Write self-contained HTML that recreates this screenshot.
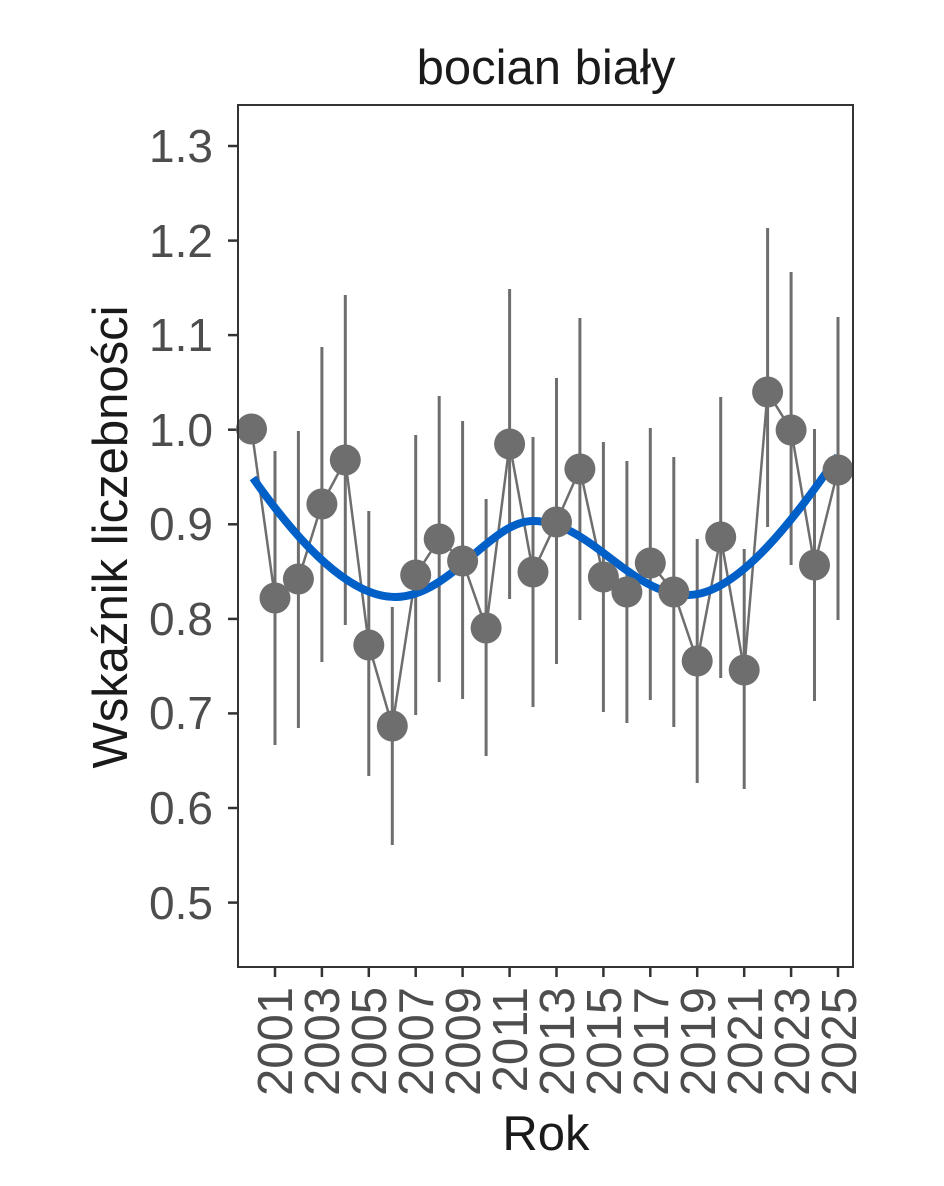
<!DOCTYPE html><html><head><style>body{margin:0;background:#fff}</style></head><body>
<svg width="944" height="1181" xmlns="http://www.w3.org/2000/svg" font-family="Liberation Sans, sans-serif">
<rect width="944" height="1181" fill="#fff"/>
<text x="546" y="84" font-size="49" text-anchor="middle" fill="#1a1a1a">bocian biały</text>
<g stroke="#333" stroke-width="2.5">
<line x1="228" y1="146" x2="238" y2="146"/><line x1="228" y1="240.6" x2="238" y2="240.6"/><line x1="228" y1="335.1" x2="238" y2="335.1"/><line x1="228" y1="429.7" x2="238" y2="429.7"/><line x1="228" y1="524.3" x2="238" y2="524.3"/><line x1="228" y1="618.9" x2="238" y2="618.9"/><line x1="228" y1="713.4" x2="238" y2="713.4"/><line x1="228" y1="808" x2="238" y2="808"/><line x1="228" y1="902.6" x2="238" y2="902.6"/>
</g>
<g font-size="46" fill="#4d4d4d" text-anchor="end">
<text x="213" y="162">1.3</text><text x="213" y="257">1.2</text><text x="213" y="351">1.1</text><text x="213" y="446">1.0</text><text x="213" y="540">0.9</text><text x="213" y="635">0.8</text><text x="213" y="729">0.7</text><text x="213" y="824">0.6</text><text x="213" y="919">0.5</text>
</g>
<g stroke="#333" stroke-width="2.5">
<line x1="275" y1="967" x2="275" y2="977"/><line x1="321.9" y1="967" x2="321.9" y2="977"/><line x1="368.8" y1="967" x2="368.8" y2="977"/><line x1="415.7" y1="967" x2="415.7" y2="977"/><line x1="462.6" y1="967" x2="462.6" y2="977"/><line x1="509.6" y1="967" x2="509.6" y2="977"/><line x1="556.5" y1="967" x2="556.5" y2="977"/><line x1="603.4" y1="967" x2="603.4" y2="977"/><line x1="650.3" y1="967" x2="650.3" y2="977"/><line x1="697.2" y1="967" x2="697.2" y2="977"/><line x1="744.2" y1="967" x2="744.2" y2="977"/><line x1="791.1" y1="967" x2="791.1" y2="977"/><line x1="838" y1="967" x2="838" y2="977"/>
</g>
<g font-size="49" fill="#4d4d4d" text-anchor="end">
<text transform="translate(292,987) rotate(-90)">2001</text>
<text transform="translate(339,987) rotate(-90)">2003</text>
<text transform="translate(386,987) rotate(-90)">2005</text>
<text transform="translate(433,987) rotate(-90)">2007</text>
<text transform="translate(480,987) rotate(-90)">2009</text>
<text transform="translate(527,987) rotate(-90)">2011</text>
<text transform="translate(574,987) rotate(-90)">2013</text>
<text transform="translate(621,987) rotate(-90)">2015</text>
<text transform="translate(668,987) rotate(-90)">2017</text>
<text transform="translate(715,987) rotate(-90)">2019</text>
<text transform="translate(762,987) rotate(-90)">2021</text>
<text transform="translate(809,987) rotate(-90)">2023</text>
<text transform="translate(856,987) rotate(-90)">2025</text>
</g>
<text x="546" y="1150" font-size="49" text-anchor="middle" fill="#1a1a1a">Rok</text>
<text transform="translate(127,537) rotate(-90)" font-size="49" text-anchor="middle" fill="#1a1a1a">Wskaźnik liczebności</text>
<g stroke="#6e6e6e" stroke-width="3">
<line x1="275" y1="451" x2="275" y2="745"/><line x1="298.4" y1="431" x2="298.4" y2="728"/><line x1="321.9" y1="347" x2="321.9" y2="662"/><line x1="345.3" y1="295" x2="345.3" y2="625"/><line x1="368.8" y1="511" x2="368.8" y2="776"/><line x1="392.3" y1="607" x2="392.3" y2="845"/><line x1="415.7" y1="435" x2="415.7" y2="715"/><line x1="439.2" y1="396" x2="439.2" y2="682"/><line x1="462.6" y1="421" x2="462.6" y2="699"/><line x1="486.1" y1="499" x2="486.1" y2="756"/><line x1="509.6" y1="289" x2="509.6" y2="599"/><line x1="533" y1="437" x2="533" y2="707"/><line x1="556.5" y1="378" x2="556.5" y2="664"/><line x1="579.9" y1="318" x2="579.9" y2="620"/><line x1="603.4" y1="442" x2="603.4" y2="712"/><line x1="626.9" y1="461" x2="626.9" y2="723"/><line x1="650.3" y1="428" x2="650.3" y2="700"/><line x1="673.8" y1="457" x2="673.8" y2="727"/><line x1="697.2" y1="539" x2="697.2" y2="783"/><line x1="720.7" y1="397" x2="720.7" y2="678"/><line x1="744.2" y1="549" x2="744.2" y2="789"/><line x1="767.6" y1="228" x2="767.6" y2="527"/><line x1="791.1" y1="272" x2="791.1" y2="565"/><line x1="814.5" y1="429" x2="814.5" y2="701"/><line x1="838" y1="317" x2="838" y2="620"/>
</g>
<polyline fill="none" stroke="#6e6e6e" stroke-width="2.5" points="251.5,429 275,598 298.4,579 321.9,504 345.3,460 368.8,645 392.3,726 415.7,575 439.2,539 462.6,561 486.1,628 509.6,444 533,572 556.5,522 579.9,469 603.4,577 626.9,592 650.3,563 673.8,592 697.2,661 720.7,537 744.2,670 767.6,392 791.1,430 814.5,565 838,470"/>
<path d="M253,478 C300,545 350,597 395,597 C450,597 490,521 533,521 C590,521 630,595 688,595 C740,595 800,510 838,456" fill="none" stroke="#0060c8" stroke-width="8"/>
<g fill="#6e6e6e">
<circle cx="251.5" cy="429" r="15.5"/><circle cx="275" cy="598" r="15.5"/><circle cx="298.4" cy="579" r="15.5"/><circle cx="321.9" cy="504" r="15.5"/><circle cx="345.3" cy="460" r="15.5"/><circle cx="368.8" cy="645" r="15.5"/><circle cx="392.3" cy="726" r="15.5"/><circle cx="415.7" cy="575" r="15.5"/><circle cx="439.2" cy="539" r="15.5"/><circle cx="462.6" cy="561" r="15.5"/><circle cx="486.1" cy="628" r="15.5"/><circle cx="509.6" cy="444" r="15.5"/><circle cx="533" cy="572" r="15.5"/><circle cx="556.5" cy="522" r="15.5"/><circle cx="579.9" cy="469" r="15.5"/><circle cx="603.4" cy="577" r="15.5"/><circle cx="626.9" cy="592" r="15.5"/><circle cx="650.3" cy="563" r="15.5"/><circle cx="673.8" cy="592" r="15.5"/><circle cx="697.2" cy="661" r="15.5"/><circle cx="720.7" cy="537" r="15.5"/><circle cx="744.2" cy="670" r="15.5"/><circle cx="767.6" cy="392" r="15.5"/><circle cx="791.1" cy="430" r="15.5"/><circle cx="814.5" cy="565" r="15.5"/><circle cx="838" cy="470" r="15.5"/>
</g>
<rect x="238" y="105" width="615" height="862" fill="none" stroke="#333" stroke-width="2"/>
</svg>
</body></html>
